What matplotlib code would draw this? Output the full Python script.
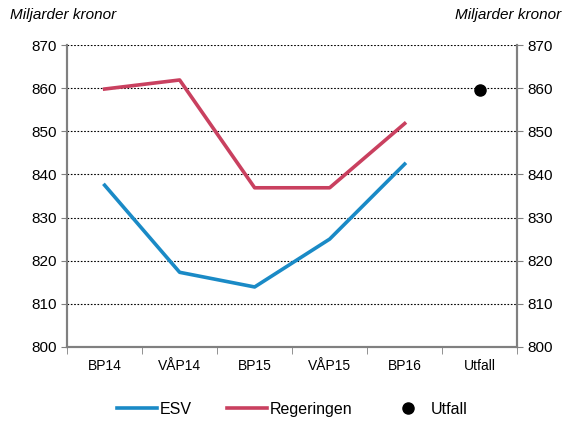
import matplotlib
matplotlib.use('Agg')
import matplotlib.pyplot as plt

plt.rcParams['font.family'] = ['Liberation Sans', 'DejaVu Sans']

# Data (miljarder kronor)
categories = ['BP14', 'VÅP14', 'BP15', 'VÅP15', 'BP16', 'Utfall']
esv = [837.5, 817.3, 813.9, 825.0, 842.4]
regeringen = [859.8, 861.9, 836.9, 836.9, 851.8]
utfall = [859.6]

fig = plt.figure(figsize=(5.64, 4.21), dpi=100)
ax = fig.add_axes([0.119, 0.176, 0.798, 0.717])

x = list(range(len(categories)))
ax.plot(x[:5], esv, color='#1a8ac6', lw=2.6, label='ESV')
ax.plot(x[:5], regeringen, color='#c9405f', lw=2.6, label='Regeringen')
ax.plot(x[5:], utfall, 'o', color='black', ms=8, lw=0, label='Utfall')

ax.set_xlim(-0.5, 5.5)
ax.set_ylim(800, 870)
ax.set_yticks(range(800, 871, 10))
ax.set_xticks(x)
ax.set_xticklabels(categories, fontsize=10)
ax.set_xticks([i - 0.5 for i in range(7)], minor=True)
ax.tick_params(axis='x', which='major', length=0, pad=9)
ax.tick_params(axis='x', which='minor', length=5, direction='out', color='#808080')
ax.tick_params(axis='y', labelsize=11, length=4, direction='out', color='#808080')
ax.yaxis.grid(True, color='black', linestyle=(0, (1.5, 1.5)), lw=0.8)

ax2 = ax.twinx()
ax2.set_ylim(800, 870)
ax2.set_yticks(range(800, 871, 10))
ax2.tick_params(axis='y', labelsize=11, length=4, direction='out', color='#808080')

for a in (ax, ax2):
    a.spines['top'].set_visible(False)
    for s in ['left', 'right', 'bottom']:
        a.spines[s].set_color('#808080')
        a.spines[s].set_linewidth(1.5)

fig.text(0.018, 0.955, 'Miljarder kronor', fontsize=11, style='italic')
fig.text(0.995, 0.955, 'Miljarder kronor', fontsize=11, style='italic', ha='right')

ax.legend(loc='lower center', bbox_to_anchor=(0.5, -0.28), ncol=3, frameon=False,
          fontsize=11.5, handlelength=2.5, handletextpad=0.2, columnspacing=2.2)

fig.savefig('out.png', dpi=100)
